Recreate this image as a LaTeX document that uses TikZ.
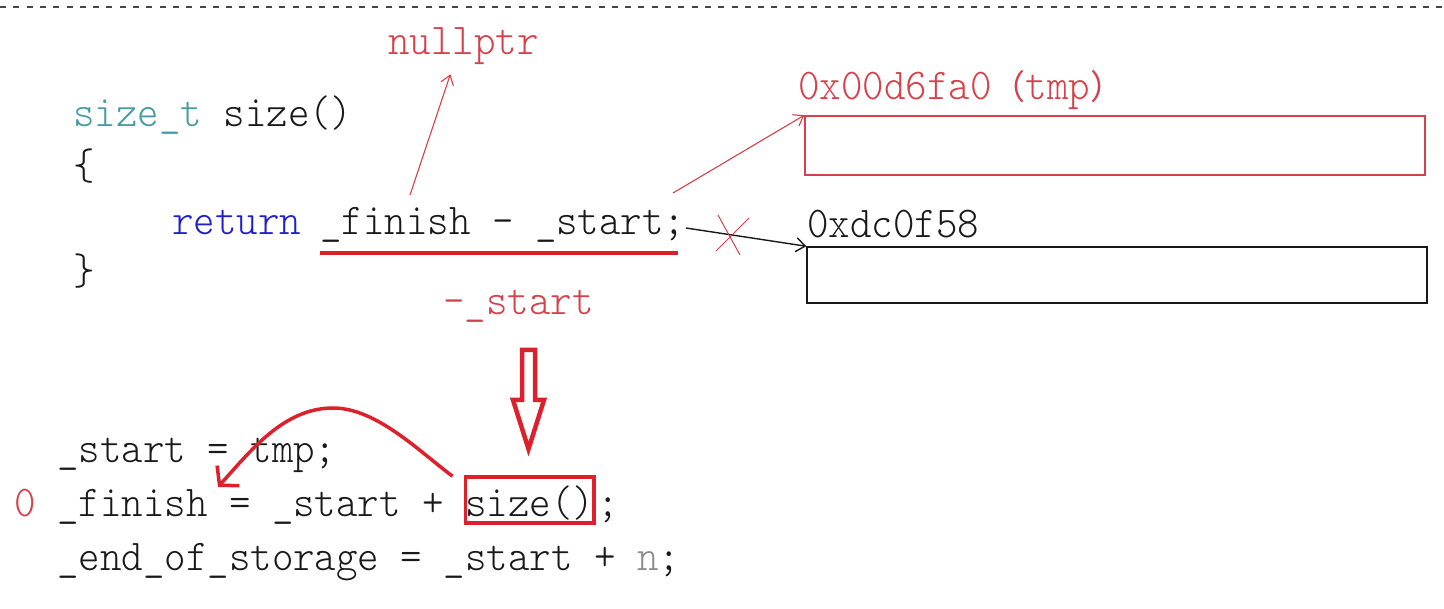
\documentclass[tikz,border=0pt]{standalone}
\usepackage{fontspec}
\newfontfamily\codefont[FakeStretch=0.93]{Latin Modern Mono Light}
\newfontfamily\cjk{Noto Sans CJK SC}
\usetikzlibrary{arrows.meta,calc}
\definecolor{cred}{RGB}{222,32,44}
\definecolor{tred}{RGB}{214,64,74}
\definecolor{teal2}{RGB}{70,155,165}
\definecolor{kwblue}{RGB}{30,30,205}
\definecolor{ink}{RGB}{25,25,25}
\definecolor{dgray}{RGB}{70,70,70}
\definecolor{ngray}{RGB}{140,140,140}
\begin{document}
\begin{tikzpicture}[x=1pt,y=-1pt,
  code/.style={anchor=base west, inner sep=0, font=\codefont\fontsize{44}{50}\selectfont, text=ink},
  thinred/.style={tred, line width=1.1, -{Straight Barb[length=9,width=13]}},
  thinblack/.style={ink, line width=1.4, -{Straight Barb[length=9,width=14]}},
  memrect/.style={line width=1.5, minimum width=620, inner sep=0}]
\useasboundingbox (0,0) rectangle (1444,609);
% top dashed rule
\draw[dgray, line width=1.5, dash pattern=on 6 off 7.3] (0,7) -- (1444,7);
% code, upper part
\node[code,text=tred] (nullptr) at (388,55) {nullptr};
\node[code] (sig) at (73,127) {\textcolor{teal2}{size\_t} size()};
\node[code] (lb) at (73,180) {\{};
\node[code,text=kwblue] (ret) at (172,235) {return};
\node[code] (expr) at (320,235) {\_finish - \_start;};
\node[code] (rb) at (73,285) {\}};
\node[code,text=tred] (minus) at (443,315) {-\_start};
% underline
\draw[cred, line width=4] ($(expr.base west)+(0,18)$) -- ($(expr.base east)+(-8,18)$);
% memory boxes
\node[code,text=tred] (tmplabel) at (798,100) {0x00d6fa0{\cjk\fontsize{34}{34}\selectfont （}tmp{\cjk\fontsize{34}{34}\selectfont ）}};
\node[memrect, draw=tred, minimum height=59] (tmpbox) at (1115,145.5) {};
\node[code] (oldlabel) at (807,238) {0xdc0f58};
\node[memrect, draw=ink, minimum height=56] (oldbox) at (1117,275) {};
% thin arrows
\coordinate (npfoot) at (410,195);
\draw[thinred] (npfoot) -- ($(nullptr.south)+(-13,9)$);
\coordinate (tmpfoot) at (673,193);
\draw[thinred] (tmpfoot) -- (tmpbox.north west);
\coordinate (oldfoot) at (686,228);
\draw[thinblack] (oldfoot) -- (oldbox.north west);
\draw[tred, line width=1] (718,215) -- (740,255);
\draw[tred, line width=1] (749,218) -- (716,251);
% hollow down arrow
\draw[cred, line width=4.5, line join=miter] (522,350) -- (535,350) -- (535,400) -- (544,400) -- (528.5,449) -- (513,400) -- (522,400) -- cycle;
% code, lower part
\node[code] (l1) at (57,463) {\_start = tmp;};
\node[code,text=tred] (zero) at (14,517) {0};
\node[code] (l2) at (57,517) {\_finish = \_start +};
\node[code, draw=cred, line width=3.5, inner xsep=0, inner ysep=3, text height=37, text depth=3] (sz) at (463.5,517) {size()};
\node[code] (semi) at ($(sz.base east)+(1,0)$) {;};
\node[code] (l3) at (57,570) {\_end\_of\_storage = \_start + \textcolor{ngray}{n};};
% curved arrow
\coordinate (cpeak) at (333,408);
\draw[cred, line width=3.5, -{Straight Barb[length=13,width=30]}]
  ($(sz.north west)+(-11,1)$) to[out=143,in=0,looseness=0.8] (cpeak)
  to[out=180,in=48,looseness=0.9] ($(l2.base west)+(161,-30)$);
\end{tikzpicture}
\end{document}
